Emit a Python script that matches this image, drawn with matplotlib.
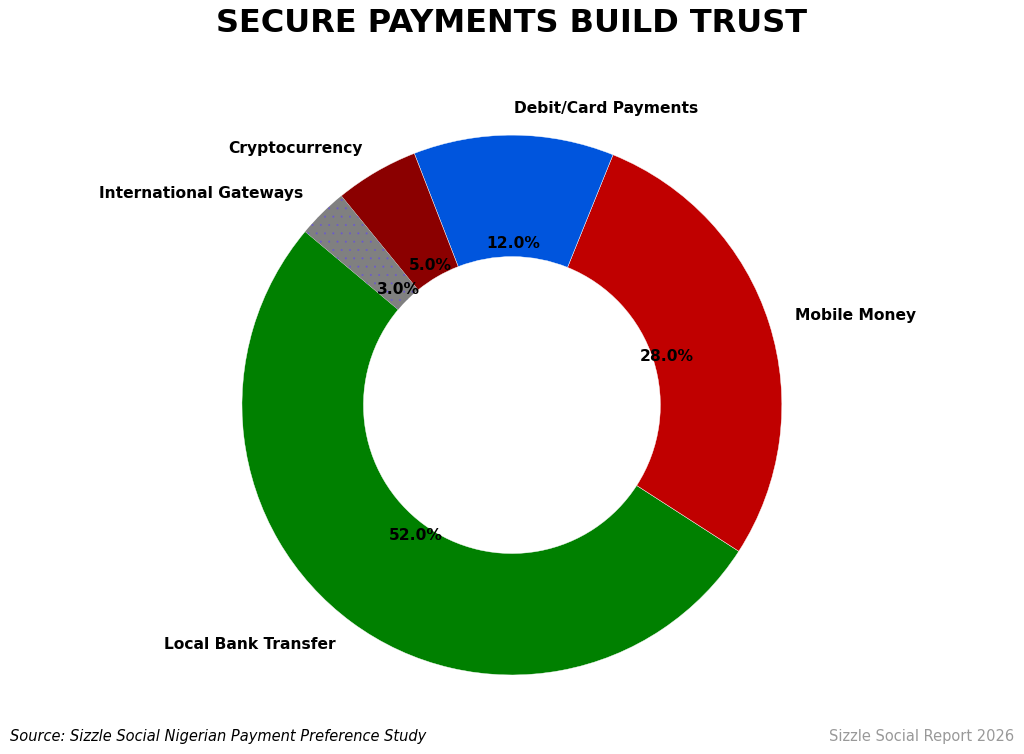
import matplotlib.pyplot as plt

# slice data, in drawing order (counter-clockwise from 140 deg)
categories = ['Local Bank Transfer', 'Mobile Money', 'Debit/Card Payments',
              'Cryptocurrency', 'International Gateways']
shares = [52, 28, 12, 5, 3]
colors = ['#008000', '#c00000', '#0055dd', '#8b0000', '#808080']

plt.rcParams['hatch.linewidth'] = 0.2

fig = plt.figure(figsize=(10.24, 7.54), dpi=100)
ax = fig.add_axes([0.1704, 0.0153, 0.659, 0.895])

wedges, texts, autotexts = ax.pie(
    shares, labels=categories, colors=colors, startangle=140,
    autopct='%1.1f%%', pctdistance=0.6, labeldistance=1.1,
    wedgeprops=dict(width=0.45, edgecolor='white', linewidth=0.3),
    textprops=dict(fontsize=11.2, fontweight='bold'))

# gateways slice has a light dotted hatch
wedges[4].set_hatch('..')
wedges[4].set_edgecolor('#6a5acd')
wedges[4].set_linewidth(0)

for t in autotexts:
    t.set_fontsize(11.2)

ax.set_aspect('equal')

fig.text(0.5, 0.969, 'SECURE PAYMENTS BUILD TRUST', ha='center', va='center',
         fontsize=23, fontweight='bold')
fig.text(0.01, 0.023, 'Source: Sizzle Social Nigerian Payment Preference Study',
         ha='left', va='center', fontsize=10.5, style='italic')
fig.text(0.99, 0.023, 'Sizzle Social Report 2026', ha='right', va='center',
         fontsize=10.5, color='#999999')

fig.savefig('out.png', dpi=100)
